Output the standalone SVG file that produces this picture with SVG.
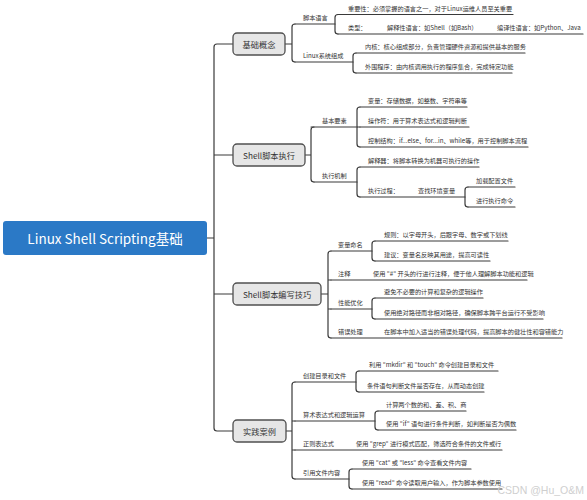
<svg xmlns="http://www.w3.org/2000/svg" width="587" height="500" viewBox="0 0 587 500">
<style>
.ln{fill:none;stroke:#3a3a3a;stroke-width:1.2;stroke-linecap:round}
.t{font-family:"Noto Sans CJK SC","Noto Sans",sans-serif;font-size:6.2px;fill:#333}
.b1{fill:#e6e6e6;stroke:#505050;stroke-width:1.3}
.t1{font-family:"Noto Sans CJK SC","Noto Sans",sans-serif;font-size:8.2px;fill:#333;text-anchor:middle;dominant-baseline:central}
.wm{font-family:"Liberation Sans","Noto Sans",sans-serif;font-size:10.5px;fill:#cfcfcf;text-anchor:end}
</style>
<rect width="587" height="500" fill="#fff"/>
<g id="connectors" class="ln">
<path d="M207 238H214M233 44H217Q214 44 214 47V428Q214 431 217 431H233M214 155H233M214 294H233"/>
<path d="M285 44H292M295 24Q292 24 292 27V59Q292 62 295 62"/>
<path d="M338 14.5Q335 14.5 335 17.5V31Q335 34 338 34"/>
<path d="M356 53Q353 53 353 56V70Q353 73 356 73"/>
<path d="M305 155H311M314 127Q311 127 311 130V179Q311 182 314 182"/>
<path d="M360 107Q357 107 357 110V144Q357 147 360 147M357 127H360"/>
<path d="M360 167Q357 167 357 170V194Q357 197 360 197"/>
<path d="M468 187Q465 187 465 190V204Q465 207 468 207"/>
<path d="M321 294H328M331 251Q328 251 328 254V335Q328 338 331 338M328 280H331M328 309H331"/>
<path d="M375 241Q372 241 372 244V258Q372 261 375 261"/>
<path d="M375 298Q372 298 372 301V316Q372 319 375 319"/>
<path d="M286 431H292M295 382Q292 382 292 385V476Q292 479 295 479M292 421H295M292 450H295"/>
<path d="M359 371Q356 371 356 374V389Q356 392 359 392"/>
<path d="M378 411Q375 411 375 414V427Q375 430 378 430"/>
<path d="M352 469Q349 469 349 472V486Q349 489 352 489"/>
</g>
<g id="root">
<rect x="3" y="221" width="204" height="34" rx="3" fill="#2b79c6"/>
<text x="105" y="238" style="font-family:'Noto Sans CJK SC','Noto Sans',sans-serif;font-size:13.5px;fill:#fff;text-anchor:middle;dominant-baseline:central">Linux Shell Scripting基础</text>
</g>
<g id="n1"><rect class="b1" x="233" y="33" width="52" height="22" rx="4"/><text class="t1" x="259" y="44">基础概念</text></g>
<g id="n2"><rect class="b1" x="233" y="144" width="72" height="22" rx="4"/><text class="t1" x="269" y="155">Shell脚本执行</text></g>
<g id="n3"><rect class="b1" x="233" y="283" width="88" height="22" rx="4"/><text class="t1" x="277" y="294">Shell脚本编写技巧</text></g>
<g id="n4"><rect class="b1" x="233" y="420" width="53" height="22" rx="4"/><text class="t1" x="259.5" y="431">实践案例</text></g>

<g id="n1a"><text class="t" x="303" y="20">脚本语言</text><path class="ln" d="M295 24H335"/></g>
<g id="n1a1"><text class="t" x="348" y="10.5">重要性：必须掌握的语言之一，对于Linux运维人员至关重要</text><path class="ln" d="M338 14.5H513"/></g>
<g id="n1a2"><text class="t" x="348" y="30">类型：</text><text class="t" x="387" y="30">解释性语言：如Shell（如Bash）</text><text class="t" x="497" y="30">编译性语言：如Python、Java</text><path class="ln" d="M338 34H583"/></g>
<g id="n1b"><text class="t" x="303" y="58">Linux系统组成</text><path class="ln" d="M295 62H353"/></g>
<g id="n1b1"><text class="t" x="365" y="49">内核：核心组成部分，负责管理硬件资源和提供基本的服务</text><path class="ln" d="M356 53H525"/></g>
<g id="n1b2"><text class="t" x="365" y="69">外围程序：由内核调用执行的程序集合，完成特定功能</text><path class="ln" d="M356 73H512"/></g>

<g id="n2a"><text class="t" x="322" y="123">基本要素</text><path class="ln" d="M311 127H357"/></g>
<g id="n2a1"><text class="t" x="368" y="103">变量：存储数据，如整数、字符串等</text><path class="ln" d="M360 107H467"/></g>
<g id="n2a2"><text class="t" x="368" y="123">操作符：用于算术表达式和逻辑判断</text><path class="ln" d="M360 127H469"/></g>
<g id="n2a3"><text class="t" x="368" y="143">控制结构：if...else、for...in、while等，用于控制脚本流程</text><path class="ln" d="M360 147H528"/></g>
<g id="n2b"><text class="t" x="322" y="178">执行机制</text><path class="ln" d="M314 182H357"/></g>
<g id="n2b1"><text class="t" x="368" y="163">解释器：将脚本转换为机器可执行的操作</text><path class="ln" d="M360 167H479"/></g>
<g id="n2b2"><text class="t" x="368" y="193">执行过程：</text><text class="t" x="418" y="193">查找环境变量</text><path class="ln" d="M360 197H465"/></g>
<g id="n2b2a"><text class="t" x="476" y="183">加载配置文件</text><path class="ln" d="M468 187H515"/></g>
<g id="n2b2b"><text class="t" x="476" y="203">进行执行命令</text><path class="ln" d="M468 207H515"/></g>

<g id="n3a"><text class="t" x="338" y="247">变量命名</text><path class="ln" d="M331 251H372"/></g>
<g id="n3a1"><text class="t" x="384" y="237">规则：以字母开头，后跟字母、数字或下划线</text><path class="ln" d="M375 241H508"/></g>
<g id="n3a2"><text class="t" x="384" y="257">建议：变量名反映其用途，提高可读性</text><path class="ln" d="M375 261H490"/></g>
<g id="n3b"><text class="t" x="338" y="276">注释</text><text class="t" x="373" y="276">使用 "#" 开头的行进行注释，便于他人理解脚本功能和逻辑</text><path class="ln" d="M331 280H527"/></g>
<g id="n3c"><text class="t" x="338" y="305">性能优化</text><path class="ln" d="M331 309H372"/></g>
<g id="n3c1"><text class="t" x="384" y="294">避免不必要的计算和复杂的逻辑操作</text><path class="ln" d="M375 298H483"/></g>
<g id="n3c2"><text class="t" x="384" y="315">使用绝对路径而非相对路径，确保脚本跨平台运行不受影响</text><path class="ln" d="M375 319H543"/></g>
<g id="n3d"><text class="t" x="338" y="334">错误处理</text><text class="t" x="384" y="334">在脚本中加入适当的错误处理代码，提高脚本的健壮性和容错能力</text><path class="ln" d="M331 338H562"/></g>

<g id="n4a"><text class="t" x="303" y="378">创建目录和文件</text><path class="ln" d="M295 382H356"/></g>
<g id="n4a1"><text class="t" x="369" y="367">利用 "mkdir" 和 "touch" 命令创建目录和文件</text><path class="ln" d="M359 371H498"/></g>
<g id="n4a2"><text class="t" x="367" y="388">条件语句判断文件是否存在，从而动态创建</text><path class="ln" d="M359 392H484"/></g>
<g id="n4b"><text class="t" x="303" y="417">算术表达式和逻辑运算</text><path class="ln" d="M295 421H375"/></g>
<g id="n4b1"><text class="t" x="386" y="407">计算两个数的和、差、积、商</text><path class="ln" d="M378 411H466"/></g>
<g id="n4b2"><text class="t" x="386" y="426">使用 "if" 语句进行条件判断，如判断是否为偶数</text><path class="ln" d="M378 430H516"/></g>
<g id="n4c"><text class="t" x="303" y="446">正则表达式</text><text class="t" x="356" y="446">使用 "grep" 进行模式匹配，筛选符合条件的文件或行</text><path class="ln" d="M295 450H502"/></g>
<g id="n4d"><text class="t" x="303" y="475">引用文件内容</text><path class="ln" d="M295 479H349"/></g>
<g id="n4d1"><text class="t" x="362" y="465">使用 "cat" 或 "less" 命令查看文件内容</text><path class="ln" d="M352 469H471"/></g>
<g id="n4d2"><text class="t" x="362" y="485">使用 "read" 命令读取用户输入，作为脚本参数使用</text><path class="ln" d="M352 489H502"/></g>

<text class="wm" x="584" y="494">CSDN @Hu_O&amp;M</text>
</svg>
